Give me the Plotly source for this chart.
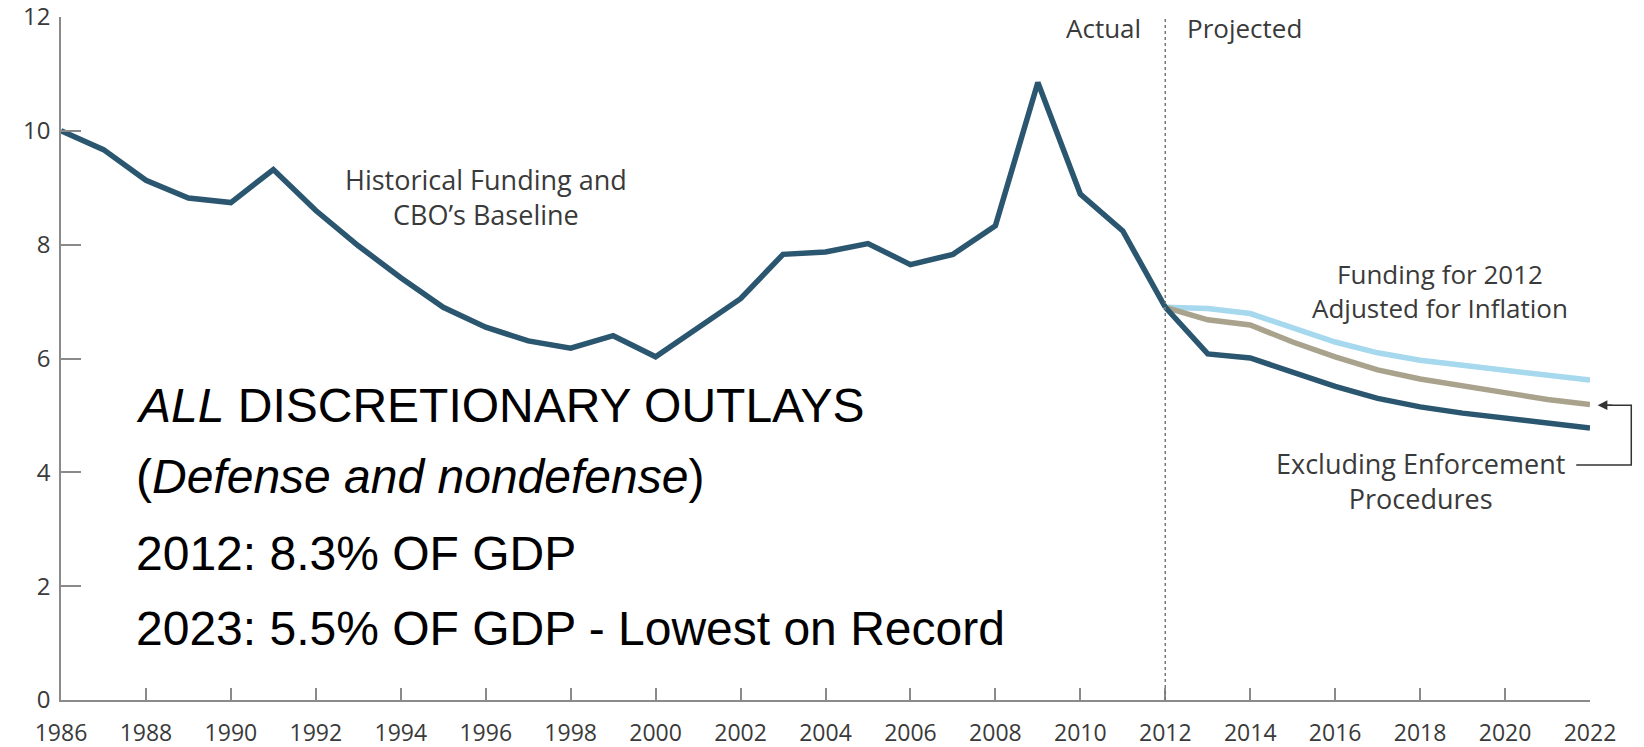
import plotly.graph_objects as go

hist_years = list(range(1986, 2013))
hist_vals = [10.0, 9.67, 9.13, 8.82, 8.74, 9.32, 8.6, 7.98, 7.42, 6.9, 6.55, 6.31, 6.18, 6.4,
             6.03, 6.55, 7.05, 7.83, 7.87, 8.02, 7.65, 7.83, 8.33, 10.85, 8.89, 8.24, 6.9]

proj_years = list(range(2012, 2023))
baseline_vals = [6.9, 6.08, 6.01, 5.75, 5.51, 5.3, 5.15, 5.04, 4.95, 4.86, 4.78]
inflation_vals = [6.9, 6.88, 6.79, 6.53, 6.29, 6.1, 5.97, 5.88, 5.8, 5.71, 5.62]
excl_vals = [6.9, 6.68, 6.59, 6.29, 6.03, 5.8, 5.64, 5.51, 5.4, 5.28, 5.19]

x_ticks = list(range(1986, 2023, 2))
y_ticks = [0, 2, 4, 6, 8, 10, 12]

DARK = "#2b5670"
LIGHT = "#a6d8ee"
TAN = "#a9a28c"
AXIS = "#8a8a8a"
LABEL = "#3a3a3a"
LW = 5.5

fig = go.Figure()
fig.add_trace(go.Scatter(x=proj_years, y=inflation_vals, mode="lines",
                         line=dict(color=LIGHT, width=LW)))
fig.add_trace(go.Scatter(x=proj_years, y=excl_vals, mode="lines",
                         line=dict(color=TAN, width=LW)))
fig.add_trace(go.Scatter(x=proj_years, y=baseline_vals, mode="lines",
                         line=dict(color=DARK, width=LW)))
fig.add_trace(go.Scatter(x=hist_years, y=hist_vals, mode="lines",
                         line=dict(color=DARK, width=LW)))

fig.add_shape(type="line", xref="x", yref="paper", x0=2012, x1=2012, y0=0, y1=1,
              line=dict(color="#777777", width=1.5, dash="dot"))

ann_font = dict(family="Open Sans", size=26, color=LABEL)
ann_font_l = dict(family="Open Sans", size=27, color=LABEL)
fig.add_annotation(x=1996, y=8.83, text="Historical Funding and<br>CBO’s Baseline",
                   showarrow=False, font=ann_font_l, align="center")
fig.add_annotation(x=2011.48, y=11.81, text="Actual", showarrow=False, font=ann_font,
                   xanchor="right")
fig.add_annotation(x=2012.47, y=11.81, text="Projected", showarrow=False, font=ann_font,
                   xanchor="left")
fig.add_annotation(x=2018.47, y=7.19, text="Funding for 2012<br>Adjusted for Inflation",
                   showarrow=False, font=ann_font, align="center")
fig.add_annotation(x=2018.0, y=3.85, text="Excluding Enforcement<br>Procedures",
                   showarrow=False, font=ann_font_l, align="center")

# connector bracket to the tan line
fig.add_shape(type="path", xref="paper", yref="y",
              path="M 0.991 4.13 L 1.027 4.13 L 1.027 5.18 L 1.009 5.18",
              line=dict(color="#333333", width=1.5))
fig.add_annotation(xref="paper", yref="y", x=1.005, y=5.18, text="", showarrow=True,
                   arrowhead=2, arrowsize=1.3, arrowwidth=1.5, arrowcolor="#333333",
                   ax=16, ay=0)

big_font = dict(family="Liberation Sans, Arial", size=48, color="black")
big_lines = ["<i>ALL</i> DISCRETIONARY OUTLAYS",
             "(<i>Defense and nondefense</i>)",
             "2012: 8.3% OF GDP",
             "2023: 5.5% OF GDP - Lowest on Record"]
big_y = [5.17, 3.92, 2.58, 1.25]
for t, yy in zip(big_lines, big_y):
    fig.add_annotation(x=1987.72, y=yy, text=t, showarrow=False, font=big_font,
                       xanchor="left", yanchor="middle")

fig.update_layout(
    width=1644, height=747,
    margin=dict(l=61, r=54, t=17, b=47, autoexpand=False),
    paper_bgcolor="white", plot_bgcolor="white",
    showlegend=False,
    xaxis=dict(range=[1986, 2022], tickvals=x_ticks, showgrid=False, zeroline=False,
               showline=True, linecolor=AXIS, linewidth=1.5, ticks="inside",
               ticklen=12, tickcolor=AXIS, tickwidth=1.5, automargin=False,
               tickfont=dict(family="Open Sans", size=23, color=LABEL),
               ticklabelstandoff=12, ticklabeloverflow="allow"),
    yaxis=dict(range=[0, 12], tickvals=y_ticks, showgrid=False, zeroline=False,
               showline=True, linecolor=AXIS, linewidth=1.5, ticks="inside",
               ticklen=20, tickcolor=AXIS, tickwidth=1.5, automargin=False,
               tickfont=dict(family="Open Sans", size=24, color=LABEL),
               ticklabelstandoff=4, ticklabeloverflow="allow"),
)

fig.write_html("out.html")
